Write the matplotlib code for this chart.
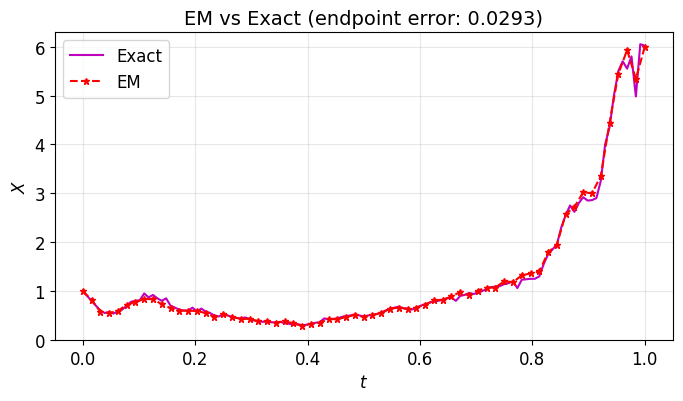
import numpy as np
import matplotlib
matplotlib.use("Agg")
import matplotlib.pyplot as plt

# Euler-Maruyama path, dt = 1/64
em_x = [1.00, 0.82, 0.58, 0.55, 0.59, 0.72, 0.77, 0.84, 0.83, 0.73,
        0.65, 0.60, 0.60, 0.59, 0.55, 0.47, 0.53, 0.47, 0.43, 0.43,
        0.38, 0.38, 0.35, 0.38, 0.34, 0.29, 0.33, 0.35, 0.43, 0.42,
        0.47, 0.51, 0.47, 0.51, 0.55, 0.64, 0.66, 0.63, 0.66, 0.72,
        0.81, 0.82, 0.89, 0.98, 0.91, 1.01, 1.07, 1.07, 1.20, 1.18,
        1.32, 1.36, 1.40, 1.79, 1.95, 2.57, 2.72, 3.02, 3.00, 3.35,
        4.44, 5.44, 5.93, 5.34, 5.99]

# exact solution path, dt = 1/128
exact_x = [1.00, 0.90, 0.80, 0.70, 0.60, 0.55, 0.57, 0.54, 0.58, 0.62,
           0.70, 0.78, 0.80, 0.81, 0.95, 0.87, 0.92, 0.85, 0.80, 0.85,
           0.70, 0.66, 0.62, 0.60, 0.60, 0.66, 0.58, 0.64, 0.58, 0.55,
           0.50, 0.48, 0.52, 0.50, 0.47, 0.45, 0.44, 0.46, 0.43, 0.40,
           0.38, 0.37, 0.38, 0.36, 0.36, 0.37, 0.34, 0.33, 0.31, 0.32,
           0.30, 0.31, 0.33, 0.35, 0.36, 0.44, 0.42, 0.43, 0.44, 0.47,
           0.49, 0.50, 0.52, 0.50, 0.48, 0.50, 0.51, 0.53, 0.56, 0.60,
           0.64, 0.66, 0.68, 0.65, 0.64, 0.62, 0.66, 0.70, 0.73, 0.76,
           0.79, 0.80, 0.82, 0.85, 0.86, 0.80, 0.90, 0.92, 0.96, 0.94,
           0.96, 1.00, 1.04, 1.08, 1.09, 1.10, 1.14, 1.16, 1.20, 1.06,
           1.23, 1.24, 1.25, 1.25, 1.30, 1.55, 1.75, 1.85, 1.95, 2.30,
           2.55, 2.75, 2.62, 2.80, 2.92, 2.85, 2.86, 2.90, 3.25, 4.00,
           4.35, 5.00, 5.50, 5.70, 5.55, 5.80, 4.98, 6.05, 6.02]

t_em = np.linspace(0, 1, len(em_x))
t_exact = np.linspace(0, 1, len(exact_x))

fig, ax = plt.subplots(figsize=(6.83, 4.02), dpi=100)
fig.subplots_adjust(left=0.08, right=0.985, top=0.918, bottom=0.152)

ax.plot(t_exact, exact_x, color='m', lw=1.5, label='Exact')
ax.plot(t_em, em_x, 'r--*', lw=1.5, markersize=5, label='EM')
ax.set_title('EM vs Exact (endpoint error: 0.0293)', fontsize=14)
ax.set_xlabel('$t$', fontsize=12)
ax.set_ylabel('$X$', fontsize=12)
ax.tick_params(labelsize=12)
ax.set_ylim(0, 6.3)
ax.grid(alpha=0.3)
ax.legend(fontsize=12, loc='upper left')

fig.savefig('out.png')
